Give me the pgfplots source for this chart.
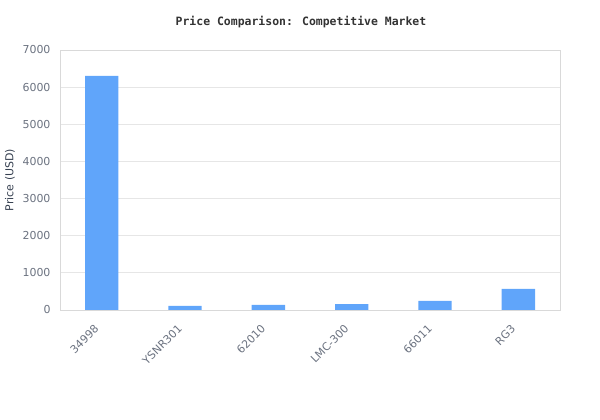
\documentclass[border=0pt]{standalone}
\usepackage{pgfplots}
\pgfplotsset{compat=1.18}
\usepackage{fontspec}
\setmainfont{DejaVu Sans}
\newfontfamily\titlefont{DejaVu Sans Mono}

\definecolor{barblue}{HTML}{60A5FA}
\definecolor{ticktext}{HTML}{6B7280}
\definecolor{labeltext}{HTML}{374151}
\definecolor{gridgray}{HTML}{E6E6E6}
\definecolor{framegray}{HTML}{D9D9D9}

\begin{document}
\begin{tikzpicture}
  \path[use as bounding box] (0,0) rectangle (600bp,420bp);
  \begin{axis}[
      at={(60bp,110bp)}, anchor=south west,
      width=500bp, height=260bp, scale only axis,
      title={\titlefont\bfseries Price Comparison: Competitive Market},
      title style={at={(axis description cs:0.5,1)}, anchor=center,
        yshift=22bp, xshift=-9bp, font=\fontsize{11.5}{13}\selectfont, text=black!80},
      ylabel={Price (USD)},
      ylabel style={at={(axis description cs:0,0.5)}, anchor=center,
        yshift=50bp, font=\fontsize{11}{13}\selectfont, text=labeltext},
      xmin=-0.5, xmax=5.5,
      ymin=0, ymax=7000,
      ytick={0,1000,2000,3000,4000,5000,6000,7000},
      xtick={0,1,2,3,4,5},
      xticklabels={34998,YSNR301,62010,LMC-300,66011,RG3},
      xticklabel style={xshift=-8bp, yshift=-9bp, rotate=45, anchor=north east,
        font=\fontsize{11}{13}\selectfont, text=ticktext},
      yticklabel style={font=\fontsize{11}{13}\selectfont, text=ticktext, xshift=-6bp},
      /pgf/number format/1000 sep={},
      /pgf/number format/assume math mode=true,
      major tick length=0pt,
      ymajorgrids=true,
      grid style={gridgray, line width=0.8pt},
      axis line style={framegray, line width=0.8pt},
      ybar, bar width=0.4,
  ]
  \addplot[fill=barblue, draw=none]
    coordinates {
      (0,6300)
      (1,110)
      (2,135)
      (3,160)
      (4,245)
      (5,570)
    };
  \end{axis}
\end{tikzpicture}
\end{document}
